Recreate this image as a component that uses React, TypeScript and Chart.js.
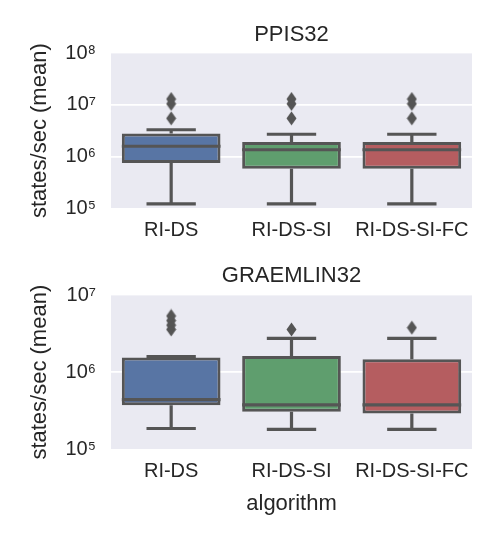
import React, { useEffect, useRef } from 'react';
import { Chart, registerables } from 'chart.js';

Chart.register(...registerables);

// ---------- data ----------
const categories = ['RI-DS', 'RI-DS-SI', 'RI-DS-SI-FC'];
const boxColors = ['#5875A4', '#5F9E6E', '#B55D60'];

const ppisTitle = 'PPIS32';
const ppisTicks = [1e5, 1e6, 1e7, 1e8];
const ppisMin = [1.2e5, 1.2e5, 1.2e5];
const ppisQ1 = [7.5e5, 5.8e5, 5.8e5];
const ppisMedian = [1.58e6, 1.35e6, 1.35e6];
const ppisQ3 = [2.8e6, 1.9e6, 1.9e6];
const ppisMax = [3.3e6, 2.7e6, 2.7e6];
const ppisOutliers = [
  [5.5e6, 1.05e7, 1.3e7],
  [5.5e6, 1.05e7, 1.3e7],
  [5.5e6, 1.05e7, 1.3e7],
];

const graemlinTitle = 'GRAEMLIN32';
const graemlinTicks = [1e5, 1e6, 1e7];
const graemlinMin = [1.85e5, 1.8e5, 1.8e5];
const graemlinQ1 = [3.7e5, 3.05e5, 2.9e5];
const graemlinMedian = [4.4e5, 3.75e5, 3.75e5];
const graemlinQ3 = [1.55e6, 1.63e6, 1.47e6];
const graemlinMax = [1.6e6, 2.76e6, 2.76e6];
const graemlinOutliers = [[3.6e6, 4.1e6, 4.7e6, 5.4e6], [3.6e6], [3.8e6]];

const yAxisTitle = 'states/sec (mean)';
const xAxisTitle = 'algorithm';

// ---------- styles ----------
const FONT = "'Liberation Sans', Arial, Helvetica, sans-serif";
const TEXT = '#262626';
const LINE = '#555555';
const BG = '#EAEAF2';
const SUP = ['⁰', '¹', '²', '³', '⁴', '⁵', '⁶', '⁷', '⁸', '⁹'];

function makeDiamond(): HTMLCanvasElement {
  const c = document.createElement('canvas');
  c.width = 11;
  c.height = 15;
  const ctx = c.getContext('2d')!;
  ctx.fillStyle = LINE;
  ctx.beginPath();
  ctx.moveTo(5.5, 0.5);
  ctx.lineTo(10.5, 7.5);
  ctx.lineTo(5.5, 14.5);
  ctx.lineTo(0.5, 7.5);
  ctx.closePath();
  ctx.fill();
  return c;
}

type Props = {
  title: string;
  ticks: number[];
  mins: number[];
  q1s: number[];
  medians: number[];
  q3s: number[];
  maxs: number[];
  outliers: number[][];
  height: number;
  titlePad: { top: number; bottom: number };
  xHeight: number;
  showXTitle: boolean;
};

function BoxChart(p: Props) {
  const ref = useRef<HTMLCanvasElement | null>(null);

  useEffect(() => {
    if (!ref.current) return;
    const diamond = makeDiamond();

    const bgPlugin = {
      id: 'plotBg',
      beforeDraw(chart: any) {
        const { ctx, chartArea: a } = chart;
        ctx.save();
        ctx.fillStyle = BG;
        ctx.fillRect(a.left, a.top, a.right - a.left, a.bottom - a.top);
        ctx.restore();
      },
    };

    const whiskerPlugin = {
      id: 'boxWhiskers',
      afterDatasetsDraw(chart: any) {
        const meta = chart.getDatasetMeta(0);
        const y = chart.scales.y;
        const ctx = chart.ctx;
        ctx.save();
        ctx.strokeStyle = LINE;
        ctx.lineWidth = 3.2;
        ctx.lineCap = 'butt';
        meta.data.forEach((bar: any, i: number) => {
          const { x, width } = bar.getProps(['x', 'width'], true);
          const yMin = y.getPixelForValue(p.mins[i]);
          const yMax = y.getPixelForValue(p.maxs[i]);
          const yQ1 = y.getPixelForValue(p.q1s[i]);
          const yQ3 = y.getPixelForValue(p.q3s[i]);
          const yMed = y.getPixelForValue(p.medians[i]);
          ctx.beginPath();
          ctx.moveTo(x, yQ3);
          ctx.lineTo(x, yMax);
          ctx.moveTo(x, yQ1);
          ctx.lineTo(x, yMin);
          ctx.moveTo(x - width / 4, yMax);
          ctx.lineTo(x + width / 4, yMax);
          ctx.moveTo(x - width / 4, yMin);
          ctx.lineTo(x + width / 4, yMin);
          ctx.moveTo(x - width / 2, yMed);
          ctx.lineTo(x + width / 2, yMed);
          ctx.stroke();
        });
        ctx.restore();
      },
    };

    const yMinV = p.ticks[0];
    const yMaxV = p.ticks[p.ticks.length - 1];

    const chart = new Chart(ref.current, {
      type: 'bar',
      data: {
        labels: categories,
        datasets: [
          {
            type: 'bar',
            data: p.q1s.map((v, i) => [v, p.q3s[i]]) as any,
            backgroundColor: boxColors,
            borderColor: LINE,
            borderWidth: 3,
            borderSkipped: false,
            barPercentage: 1,
            categoryPercentage: 0.82,
          } as any,
          {
            type: 'scatter',
            data: p.outliers.flatMap((arr, i) => arr.map((v) => ({ x: categories[i], y: v }))) as any,
            pointStyle: diamond,
            pointRadius: 5,
            pointHoverRadius: 5,
            showLine: false,
          } as any,
        ],
      },
      options: {
        responsive: false,
        animation: false,
        events: [],
        layout: { padding: { left: 0, right: 27, top: 0, bottom: 0 } },
        plugins: {
          legend: { display: false },
          tooltip: { enabled: false },
          title: {
            display: true,
            text: p.title,
            fullSize: false,
            color: TEXT,
            font: { family: FONT, size: 22, weight: 'normal' },
            padding: p.titlePad,
          },
        },
        scales: {
          x: {
            type: 'category',
            offset: true,
            grid: { display: false, drawTicks: false },
            border: { display: false },
            ticks: { color: TEXT, font: { family: FONT, size: 20 }, padding: 10, maxRotation: 0 },
            title: {
              display: p.showXTitle,
              text: xAxisTitle,
              color: TEXT,
              font: { family: FONT, size: 22 },
              padding: { top: 23, bottom: 23 },
            },
            afterFit(scale: any) {
              scale.height = p.xHeight;
            },
          },
          y: {
            type: 'logarithmic',
            min: yMinV,
            max: yMaxV,
            afterBuildTicks(scale: any) {
              scale.ticks = p.ticks.map((v) => ({ value: v }));
            },
            grid: {
              drawTicks: false,
              lineWidth: 1.8,
              color: (ctx: any) =>
                ctx.tick && (ctx.tick.value === yMinV || ctx.tick.value === yMaxV)
                  ? 'rgba(0,0,0,0)'
                  : '#ffffff',
            },
            border: { display: false },
            ticks: {
              color: TEXT,
              font: { family: FONT, size: 20 },
              padding: 15,
              callback: (value: any) => '10' + SUP[Math.round(Math.log10(Number(value)))],
            },
            title: {
              display: true,
              text: yAxisTitle,
              color: TEXT,
              font: { family: FONT, size: 22 },
              padding: { top: 27, bottom: 27 },
            },
            afterFit(scale: any) {
              scale.width = 111;
            },
          },
        },
      } as any,
      plugins: [bgPlugin, whiskerPlugin],
    });

    return () => chart.destroy();
  }, []);

  return <canvas ref={ref} width={499} height={p.height} style={{ display: 'block' }} />;
}

export default function App() {
  return (
    <div style={{ position: 'absolute', left: 0, top: 0, width: 499, height: 540, background: '#ffffff' }}>
      <BoxChart
        title={ppisTitle}
        ticks={ppisTicks}
        mins={ppisMin}
        q1s={ppisQ1}
        medians={ppisMedian}
        q3s={ppisQ3}
        maxs={ppisMax}
        outliers={ppisOutliers}
        height={250}
        titlePad={{ top: 22, bottom: 5 }}
        xHeight={42}
        showXTitle={false}
      />
      <BoxChart
        title={graemlinTitle}
        ticks={graemlinTicks}
        mins={graemlinMin}
        q1s={graemlinQ1}
        medians={graemlinMedian}
        q3s={graemlinQ3}
        maxs={graemlinMax}
        outliers={graemlinOutliers}
        height={290}
        titlePad={{ top: 13, bottom: 6 }}
        xHeight={91}
        showXTitle={true}
      />
    </div>
  );
}
